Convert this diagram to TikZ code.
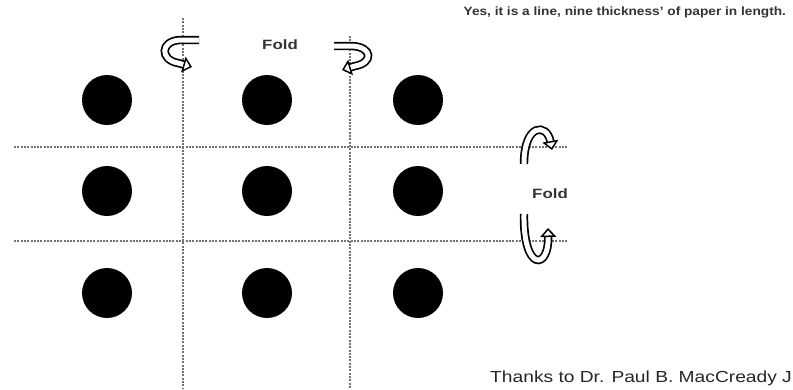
\documentclass[tikz,border=0pt]{standalone}
\usepackage{fontspec}
\setmainfont{Liberation Sans}
\usetikzlibrary{arrows.meta}
\begin{document}
\begin{tikzpicture}[x=1pt,y=-1pt,
  dot/.style={circle,fill=black,minimum size=50pt,inner sep=0pt},
  foldline/.style={draw=black!55,line width=1.2pt,dash pattern=on 2pt off 1.3pt},
  ribbon/.style={double=white,double distance=5pt,line width=1.7pt,
    -{Triangle[open,length=9pt,width=16pt,line width=1.5pt,fill=white]}},
  foldlabel/.style={font=\bfseries\fontsize{13.5}{15}\selectfont,text=black!80,xscale=1.25}]
\useasboundingbox (0,0) rectangle (793,389);
% fold lines
\coordinate (v1t) at (183,18); \coordinate (v1b) at (183,389);
\coordinate (v2t) at (350,36); \coordinate (v2b) at (350,389);
\coordinate (h1l) at (14,147); \coordinate (h1r) at (567,147);
\coordinate (h2l) at (14,241); \coordinate (h2r) at (567,241);
\draw[foldline] (v1t) -- (v1b);
\draw[foldline] (v2t) -- (v2b);
\draw[foldline] (h1l) -- (h1r);
\draw[foldline] (h2l) -- (h2r);
% dots
\node[dot] (d11) at (107,100) {};
\node[dot] (d12) at (267,100) {};
\node[dot] (d13) at (418,100) {};
\node[dot] (d21) at (107,191) {};
\node[dot] (d22) at (267,191) {};
\node[dot] (d23) at (418,191) {};
\node[dot] (d31) at (107,293) {};
\node[dot] (d32) at (267,293) {};
\node[dot] (d33) at (418,293) {};
% arrows
\draw[ribbon] (199,40) -- (180,40) .. controls (160,41) and (160,60) .. (178,63) -- (192,67);
\draw[ribbon] (334,46) -- (352,46) .. controls (373,47) and (373,63) .. (355,66) -- (342,70);
\draw[ribbon] (524,164) .. controls (524,123) and (547,123) .. (552,150);
\draw[ribbon] (524,214) .. controls (523,272) and (549,270) .. (548,228);
% labels
\node[foldlabel] (f1) at (280,45) {Fold};
\node[foldlabel] (f2) at (550,194) {Fold};
\node[anchor=east,font=\bfseries\fontsize{12}{13}\selectfont,text=black!80,xscale=1.14] (t1) at (790,12) {Yes, it is a line, nine thickness' of paper in length.};
\node[anchor=west,font=\fontsize{16}{18}\selectfont,text=black!85,xscale=1.2] (t2) at (486,378) {Thanks to Dr. Paul B. MacCready J};
\end{tikzpicture}
\end{document}
